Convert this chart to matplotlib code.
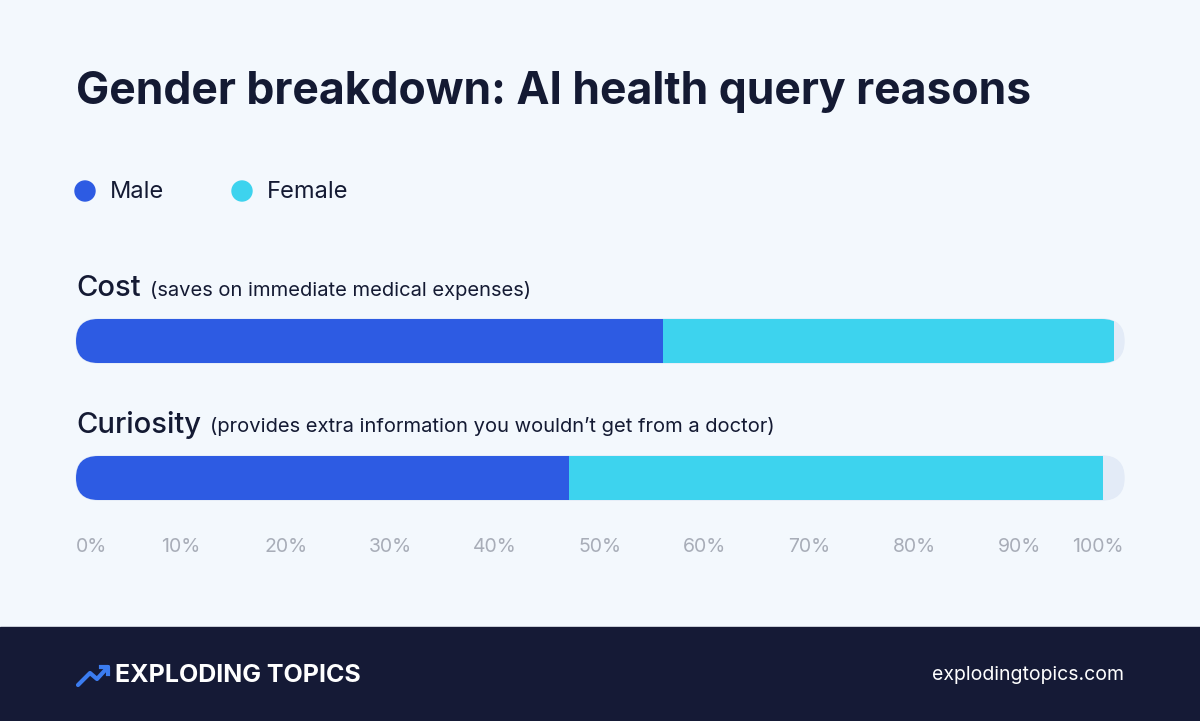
import matplotlib.pyplot as plt
from matplotlib.patches import FancyBboxPatch, Rectangle, Circle

plt.rcParams['font.family'] = ['Inter', 'DejaVu Sans']

# data
categories = ['Cost', 'Curiosity']
notes = ['(saves on immediate medical expenses)',
         '(provides extra information you wouldn\u2019t get from a doctor)']
male = [56, 47]
female = [43, 51]
tick_vals = [0, 10, 20, 30, 40, 50, 60, 70, 80, 90, 100]
tick_labels = [f'{t}%' for t in tick_vals]

MALE_C = '#2d5be3'
FEMALE_C = '#3dd3ee'
TRACK_C = '#e3ebf7'
BG = '#f3f8fd'
FOOT = '#151a36'

W, H = 1200, 721
fig = plt.figure(figsize=(12, 7.21), dpi=100, facecolor=BG)

# background axes in pixel coordinates
bg = fig.add_axes([0, 0, 1, 1])
bg.set_xlim(0, W)
bg.set_ylim(H, 0)
bg.axis('off')
bg.add_patch(Rectangle((0, 627), W, 94, color=FOOT))

bg.text(76, 92, 'Gender breakdown: AI health query reasons', fontsize=32,
        fontweight='bold', color='#141a33', va='center')

bg.add_patch(Circle((85, 191), 10, color=MALE_C))
bg.text(110, 192, 'Male', fontsize=17, color='#141a33', va='center')
bg.add_patch(Circle((242, 191), 10, color=FEMALE_C))
bg.text(267, 192, 'Female', fontsize=17, color='#141a33', va='center')

# bar axes: x in percent, y in pixel rows
x0, x1, y_top, y_bot = 76, 1124, 300, 520
ax = fig.add_axes([x0 / W, 1 - y_bot / H, (x1 - x0) / W, (y_bot - y_top) / H])
ax.set_xlim(0, 100)
ax.set_ylim(y_bot, y_top)
ax.patch.set_alpha(0)
for s in ax.spines.values():
    s.set_visible(False)

centers = [341, 478]
bh = 44
for i, c in enumerate(centers):
    track = FancyBboxPatch((x0, c - bh / 2), x1 - x0, bh,
                           boxstyle=f'round,pad=0,rounding_size={bh / 2}',
                           color=TRACK_C, transform=bg.transData)
    bg.add_patch(track)
    bars = ax.barh([c, c], [male[i], female[i]], left=[0, male[i]],
                   height=bh, color=[MALE_C, FEMALE_C])
    for b in bars:
        b.set_clip_path(track)
    label_y = c - bh / 2 - 31
    t = bg.text(x0, label_y, categories[i], fontsize=21, color='#141a33',
                va='center', fontweight='medium')
    fig.canvas.draw()
    bb = t.get_window_extent()
    bg.text(bb.x1 + 9, label_y + 2, notes[i], fontsize=14.5, color='#141a33', va='center')

ax.set_yticks([])
ax.set_xticks(tick_vals)
ax.set_xticklabels(tick_labels, fontsize=14, color='#a8adb8')
ax.tick_params(axis='x', length=0, pad=13)
lbls = ax.get_xticklabels()
lbls[0].set_ha('left')
lbls[-1].set_ha('right')

# footer
bg.plot([78, 90, 97, 108], [685, 673, 679, 667], color='#3b7cf0', lw=3,
        solid_capstyle='round')
bg.plot([101, 108, 108], [667, 667, 674], color='#3b7cf0', lw=3)
bg.text(115, 675, 'EXPLODING TOPICS', fontsize=18, fontweight='bold',
        color='white', va='center')
bg.text(1124, 675, 'explodingtopics.com', fontsize=14, color='white',
        va='center', ha='right')

fig.savefig('out.png', dpi=100, facecolor=BG)
